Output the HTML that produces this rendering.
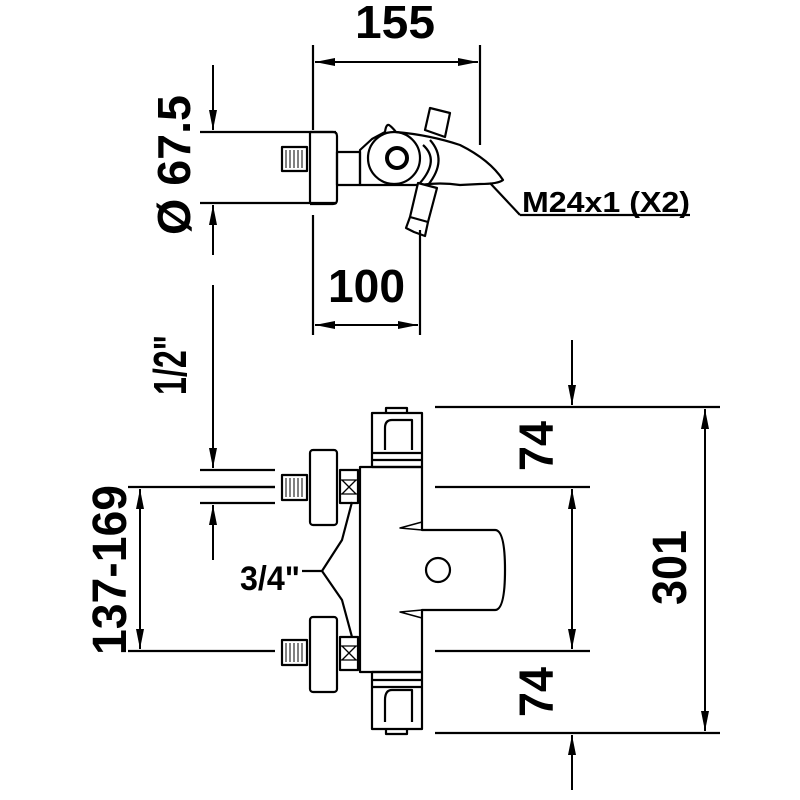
<!DOCTYPE html>
<html><head><style>html,body{margin:0;padding:0;background:#fff}svg{display:block}</style></head>
<body>
<svg width="800" height="800" viewBox="0 0 800 800" xmlns="http://www.w3.org/2000/svg">
<defs>
<marker id="a" viewBox="0 0 20 8" refX="20" refY="4" markerWidth="20" markerHeight="8" orient="auto-start-reverse" markerUnits="userSpaceOnUse"><path d="M0,0 L20,4 L0,8 z" fill="#000"/></marker>
</defs>
<g fill="none" stroke="#000" stroke-width="2.2" stroke-linejoin="round">
<!-- top view -->
<line x1="313" y1="45" x2="313" y2="130"/><line x1="480" y1="45" x2="480" y2="145"/>
<line x1="315" y1="62" x2="478" y2="62" marker-start="url(#a)" marker-end="url(#a)" stroke-width="2"/>
<line x1="313" y1="215" x2="313" y2="335"/><line x1="420" y1="230" x2="420" y2="335"/>
<line x1="315" y1="325" x2="418" y2="325" marker-start="url(#a)" marker-end="url(#a)" stroke-width="2"/>
<line x1="200" y1="132" x2="336" y2="132"/><line x1="200" y1="203" x2="336" y2="203"/>
<line x1="213" y1="65" x2="213" y2="130" marker-end="url(#a)" stroke-width="2"/>
<line x1="213" y1="255" x2="213" y2="205" marker-end="url(#a)" stroke-width="2"/>
<path d="M310,132 H333 Q337,132 337,136 V200 Q337,204 333,204 H310"/>
<line x1="310" y1="132" x2="310" y2="204"/>
<rect x="282" y="147" width="25" height="24" fill="#fff"/>
<path d="M286,150 V168 M290,150 V168 M294,150 V168 M298,150 V168 M302,150 V168" stroke-width="1"/>
<rect x="337" y="152" width="23" height="33"/>
<path d="M360,150 L372,139 L385,132 Q386,124 389,125 Q392,127 396,132 Q430,135 460,145 Q490,160 503,180 Q498,184 480,184 L460,185 Q440,182 420,185 L360,185 Z"/>
<circle cx="394" cy="158" r="26"/>
<circle cx="397" cy="158" r="10" stroke-width="4"/>
<path d="M423,145 Q440,160 420,183" /><path d="M430,140 Q448,160 428,185"/>
<path d="M430,108 L450,113 L445,137 L425,130 Z" fill="#fff"/>
<path d="M418,183 L437,188 L428,222 L410,217 Z" fill="#fff"/>
<path d="M410,217 L406,228 L414,232 L425,236 L428,222"/>
<line x1="490" y1="183" x2="520" y2="215"/><line x1="520" y1="215" x2="690" y2="215"/>
<!-- left dims -->
<line x1="213" y1="285" x2="213" y2="468" marker-end="url(#a)" stroke-width="2"/>
<line x1="213" y1="560" x2="213" y2="505" marker-end="url(#a)" stroke-width="2"/>
<line x1="200" y1="470" x2="275" y2="470"/><line x1="200" y1="487" x2="275" y2="487"/><line x1="200" y1="503" x2="275" y2="503"/>
<line x1="128" y1="487" x2="275" y2="487"/><line x1="128" y1="651" x2="275" y2="651"/>
<line x1="140" y1="489" x2="140" y2="649" marker-start="url(#a)" marker-end="url(#a)" stroke-width="2"/>
<!-- body -->
<path d="M360,467 H422 V530 H495 Q505,530 505,570 Q505,610 495,610 H422 V672 H360 Z"/>
<circle cx="438" cy="570" r="12"/>
<path d="M400,528 L422,522 L422,530 Z M400,612 L422,618 L422,610 Z" stroke-width="1.5"/>
<rect x="372" y="413" width="50" height="54"/><line x1="372" y1="453" x2="422" y2="453"/><line x1="372" y1="460" x2="422" y2="460"/>
<path d="M386,413 V408 H407 V413 M392,420 Q385,420 385,428 V450 M392,420 H412 V450"/>
<rect x="372" y="672" width="50" height="57"/><line x1="372" y1="680" x2="422" y2="680"/><line x1="372" y1="687" x2="422" y2="687"/>
<path d="M386,729 V734 H407 V729 M392,690 Q385,690 385,700 V722 M392,690 H412 V722"/>
<rect x="310" y="450" width="27" height="75" rx="3"/>
<rect x="340" y="470" width="18" height="33"/><path d="M342,480 L356,494 M356,480 L342,494 M340,480 H358 M340,494 H358" stroke-width="1.3"/>
<rect x="282" y="475" width="25" height="25"/><path d="M286,478 V497 M290,478 V497 M294,478 V497 M298,478 V497 M302,478 V497" stroke-width="1"/>
<rect x="310" y="617" width="27" height="75" rx="3"/>
<rect x="340" y="637" width="18" height="33"/><path d="M342,646 L356,660 M356,646 L342,660 M340,646 H358 M340,660 H358" stroke-width="1.3"/>
<rect x="282" y="640" width="25" height="25"/><path d="M286,643 V662 M290,643 V662 M294,643 V662 M298,643 V662 M302,643 V662" stroke-width="1"/>
<path d="M302,571 H322 L342,540 L352,502 M322,571 L342,600 L352,637"/>
<!-- right dims -->
<line x1="435" y1="407" x2="720" y2="407"/><line x1="435" y1="487" x2="590" y2="487"/>
<line x1="435" y1="651" x2="590" y2="651"/><line x1="435" y1="733" x2="720" y2="733"/>
<line x1="572" y1="340" x2="572" y2="405" marker-end="url(#a)" stroke-width="2"/>
<line x1="572" y1="590" x2="572" y2="489" marker-end="url(#a)" stroke-width="2"/>
<line x1="572" y1="590" x2="572" y2="649" marker-end="url(#a)" stroke-width="2"/>
<line x1="572" y1="790" x2="572" y2="735" marker-end="url(#a)" stroke-width="2"/>
<line x1="705" y1="409" x2="705" y2="731" marker-start="url(#a)" marker-end="url(#a)" stroke-width="2"/>
</g>
<g font-family="Liberation Sans, sans-serif" font-weight="bold" fill="#000">
<text x="355" y="38" font-size="46" textLength="80" lengthAdjust="spacingAndGlyphs">155</text>
<text x="328" y="302" font-size="46" textLength="77" lengthAdjust="spacingAndGlyphs">100</text>
<text x="522" y="212" font-size="29" textLength="168" lengthAdjust="spacingAndGlyphs">M24x1 (X2)</text>
<text x="240" y="590" font-size="34" textLength="60" lengthAdjust="spacingAndGlyphs">3/4"</text>
<text transform="translate(190,235) rotate(-90)" font-size="46" textLength="140" lengthAdjust="spacingAndGlyphs">Ø 67.5</text>
<text transform="translate(186,395) rotate(-90)" font-size="46" textLength="60" lengthAdjust="spacingAndGlyphs">1/2"</text>
<text transform="translate(126,655) rotate(-90)" font-size="48" textLength="170" lengthAdjust="spacingAndGlyphs">137-169</text>
<text transform="translate(553,471) rotate(-90)" font-size="48" textLength="50" lengthAdjust="spacingAndGlyphs">74</text>
<text transform="translate(553,717) rotate(-90)" font-size="48" textLength="50" lengthAdjust="spacingAndGlyphs">74</text>
<text transform="translate(686,605) rotate(-90)" font-size="48" textLength="75" lengthAdjust="spacingAndGlyphs">301</text>
</g>
</svg>
</body></html>
